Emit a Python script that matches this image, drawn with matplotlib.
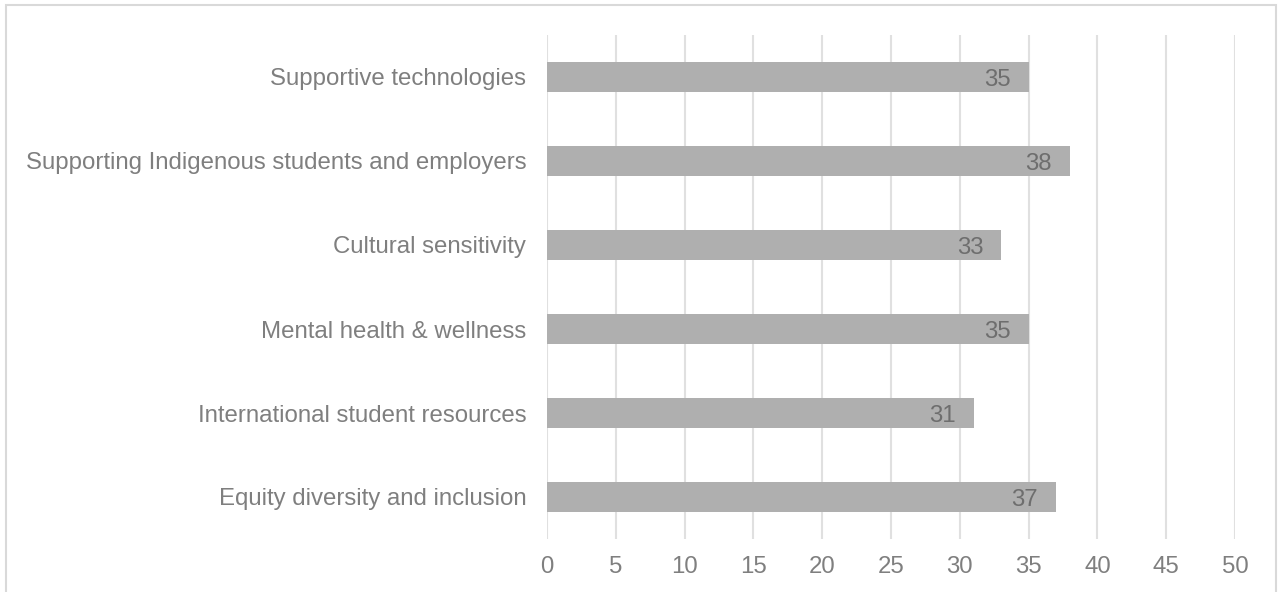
import matplotlib.pyplot as plt
from matplotlib.patches import Rectangle

plt.rcParams['font.family'] = ['Liberation Sans', 'DejaVu Sans']

categories = [
    "Equity diversity and inclusion",
    "International student resources",
    "Mental health & wellness",
    "Cultural sensitivity",
    "Supporting Indigenous students and employers",
    "Supportive technologies",
]
counts = [37, 31, 35, 33, 38, 35]
x_ticks = [0, 5, 10, 15, 20, 25, 30, 35, 40, 45, 50]

TEXT = "#7F7F7F"
BAR = "#AFAFAF"
GRID = "#E0E0E0"
FS = 17.3

fig = plt.figure(figsize=(12.81, 5.92), dpi=100)
ax = fig.add_axes([547 / 1281, 1 - 539 / 592, (1235 - 547) / 1281, (539 - 35) / 592])

pos = range(len(categories))
bars = ax.barh(pos, counts, height=0.36, color=BAR, zorder=2)

for b, v in zip(bars, counts):
    ax.text(b.get_width() - 1.3, b.get_y() + b.get_height() / 2, str(v),
            ha="right", va="center_baseline", fontsize=FS, color="#6E6E6E", zorder=3)

ax.set_xlim(0, 50)
ax.set_ylim(-0.5, len(categories) - 0.5)
ax.set_xticks(x_ticks)
ax.set_yticks(list(pos))
ax.set_yticklabels(categories)
ax.tick_params(axis="both", length=0, labelsize=FS, labelcolor=TEXT)
ax.tick_params(axis="x", pad=12.5)
ax.tick_params(axis="y", pad=15)
for lbl in ax.get_yticklabels():
    lbl.set_va("center_baseline")
ax.xaxis.grid(True, color=GRID, linewidth=1.5, zorder=0)
for s in ax.spines.values():
    s.set_visible(False)

# light frame around the whole chart area
fig.patches.append(Rectangle((6 / 1281, -0.05), 1270 / 1281, 1.05 - 5 / 592,
                             transform=fig.transFigure, fill=False,
                             edgecolor="#D9D9D9", linewidth=1.5))

fig.savefig("out.png", dpi=100)
